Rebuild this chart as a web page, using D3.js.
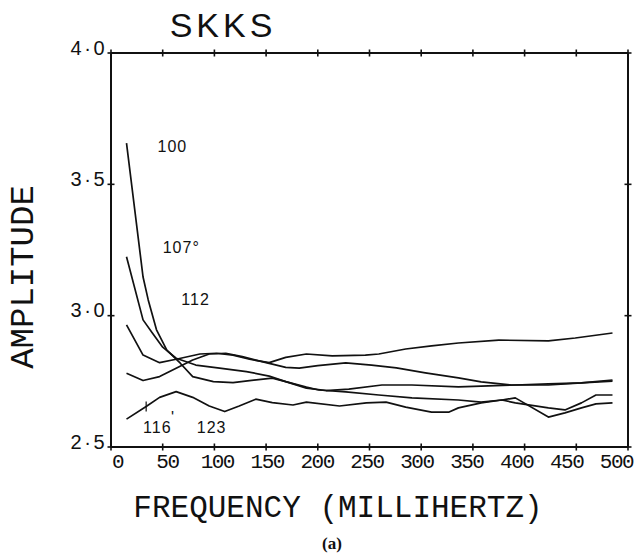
<!DOCTYPE html>
<html>
<head>
<meta charset="utf-8">
<script src="https://cdn.jsdelivr.net/npm/d3@7"></script>
<style>
  html, body { margin: 0; padding: 0; background: #fff; }
  svg { display: block; }
</style>
</head>
<body>
<svg id="chart" width="644" height="557"></svg>
<script>
// ---- data ----
const xTicks = [0, 50, 100, 150, 200, 250, 300, 350, 400, 450, 500];
const yTicks = [2.5, 3.0, 3.5, 4.0];
const yTickLabels = ["2·5", "3·0", "3·5", "4·0"];

const freq100 = [15, 31, 36, 44, 54, 67, 79, 99, 118, 134, 156, 169, 189, 208, 230, 262, 291, 336, 358, 391, 423, 455, 485];
const amp100  = [3.657, 3.147, 3.060, 2.946, 2.869, 2.819, 2.768, 2.749, 2.745, 2.753, 2.762, 2.749, 2.724, 2.715, 2.720, 2.736, 2.736, 2.729, 2.732, 2.736, 2.740, 2.744, 2.751];

const freq107 = [15, 31, 40, 50, 63, 82, 105, 131, 153, 169, 189, 201, 227, 259, 291, 336, 358, 378, 391, 423, 439, 455, 469, 485];
const amp107  = [3.224, 2.984, 2.934, 2.880, 2.838, 2.812, 2.800, 2.787, 2.770, 2.749, 2.728, 2.717, 2.710, 2.698, 2.687, 2.679, 2.671, 2.679, 2.668, 2.649, 2.641, 2.668, 2.698, 2.698];

const freq112 = [15, 31, 47, 63, 86, 102, 118, 134, 153, 169, 189, 214, 246, 259, 285, 310, 336, 375, 423, 449, 485];
const amp112  = [2.965, 2.850, 2.821, 2.834, 2.854, 2.857, 2.850, 2.834, 2.821, 2.841, 2.854, 2.847, 2.850, 2.854, 2.873, 2.885, 2.896, 2.907, 2.904, 2.915, 2.934];

const freq116 = [15, 31, 47, 63, 79, 95, 111, 127, 150, 169, 182, 200, 227, 252, 276, 304, 336, 358, 387, 423, 455, 485];
const amp116  = [2.781, 2.753, 2.768, 2.800, 2.831, 2.854, 2.857, 2.844, 2.821, 2.803, 2.800, 2.810, 2.820, 2.812, 2.801, 2.782, 2.763, 2.748, 2.736, 2.736, 2.744, 2.755];

const freq123 = [15, 34, 47, 63, 79, 95, 110, 124, 140, 156, 176, 189, 221, 247, 266, 285, 310, 327, 336, 358, 378, 391, 423, 439, 455, 469, 485];
const amp123  = [2.606, 2.654, 2.689, 2.711, 2.689, 2.656, 2.635, 2.656, 2.682, 2.669, 2.660, 2.671, 2.656, 2.668, 2.671, 2.652, 2.633, 2.633, 2.649, 2.668, 2.679, 2.687, 2.614, 2.630, 2.649, 2.664, 2.668];

const curveLabels = [
  { text: "100",  f: 45,  a: 3.625 },
  { text: "107°", f: 50,  a: 3.237 },
  { text: "112",  f: 68,  a: 3.040 },
  { text: "116",  f: 31,  a: 2.553 },
  { text: "'",    f: 58,  a: 2.592 },
  { text: "123",  f: 83,  a: 2.553 }
];

// ---- layout ----
const svg = d3.select("#chart");
const x = d3.scaleLinear().domain([0, 500]).range([111, 628]);
const y = d3.scaleLinear().domain([2.5, 4.0]).range([447, 53]);

const ink = "#111";

// frame
const g = svg.append("g");
g.append("line").attr("x1", x(0)).attr("x2", x(0)).attr("y1", y(4)).attr("y2", y(2.5));
g.append("line").attr("x1", x(500)).attr("x2", x(500)).attr("y1", y(4)).attr("y2", y(2.5));
g.append("line").attr("x1", x(0)).attr("x2", x(500)).attr("y1", y(4)).attr("y2", y(4));
g.append("line").attr("x1", x(0)).attr("x2", x(500)).attr("y1", y(2.5)).attr("y2", y(2.5));
g.selectAll("line").attr("stroke", ink).attr("stroke-width", 2);

// tick crosses
const tk = svg.append("g").attr("stroke", ink).attr("stroke-width", 1.6);
xTicks.forEach(t => {
  [2.5, 4.0].forEach(v => {
    tk.append("line").attr("x1", x(t)).attr("x2", x(t)).attr("y1", y(v) - 3.5).attr("y2", y(v) + 3.5);
  });
});
yTicks.forEach(t => {
  [0, 500].forEach(v => {
    tk.append("line").attr("x1", x(v) - 3.5).attr("x2", x(v) + 3.5).attr("y1", y(t)).attr("y2", y(t));
  });
});
// small mark across the lowest curve near its start
tk.append("line").attr("x1", x(34)).attr("x2", x(34)).attr("y1", y(2.654) - 5).attr("y2", y(2.654) + 5)
  .attr("stroke-width", 1.2);

// x tick labels via axis
const xAxis = d3.axisBottom(x).tickValues(xTicks).tickSize(0).tickPadding(0).tickFormat(d3.format("d"));
const xa = svg.append("g").attr("transform", `translate(0,${y(2.5)})`).call(xAxis);
xa.select(".domain").remove();
xa.selectAll("text")
  .attr("dy", null).attr("y", 21)
  .attr("font-family", "Liberation Mono, DejaVu Sans Mono, monospace")
  .attr("font-size", 21).attr("letter-spacing", -1.5)
  .attr("fill", ink)
  .attr("x", d => 6 - d * 0.036);

// y tick labels via axis
const yAxis = d3.axisLeft(y).tickValues(yTicks).tickSize(0).tickPadding(0)
  .tickFormat((d, i) => yTickLabels[i]);
const ya = svg.append("g").attr("transform", `translate(${x(0)},0)`).call(yAxis);
ya.select(".domain").remove();
ya.selectAll("text")
  .attr("dy", null).attr("x", -4).attr("y", 1)
  .attr("text-anchor", "end")
  .attr("font-family", "Liberation Sans, Arial, sans-serif")
  .attr("font-size", 20).attr("letter-spacing", 2.5)
  .attr("fill", ink);

// curves
const series = [
  [freq100, amp100], [freq107, amp107], [freq112, amp112], [freq116, amp116], [freq123, amp123]
];
const line = d3.line().x(d => x(d[0])).y(d => y(d[1])).curve(d3.curveLinear);
svg.append("g").selectAll("path").data(series).join("path")
  .attr("d", s => line(s[0].map((f, i) => [f, s[1][i]])))
  .attr("fill", "none").attr("stroke", ink).attr("stroke-width", 1.7)
  .attr("stroke-linejoin", "round");

// curve labels
svg.append("g").selectAll("text").data(curveLabels).join("text")
  .attr("x", d => x(d.f)).attr("y", d => y(d.a))
  .attr("font-family", "Liberation Sans, Arial, sans-serif")
  .attr("font-size", 16).attr("letter-spacing", 1)
  .attr("fill", ink)
  .text(d => d.text);

// title
svg.append("text").attr("x", 223).attr("y", 37).attr("text-anchor", "middle")
  .attr("font-family", "Liberation Sans, Arial, sans-serif")
  .attr("font-size", 34).attr("letter-spacing", 4).attr("fill", ink)
  .text("SKKS");

// axis titles
svg.append("text").attr("transform", "translate(33,277) rotate(-90)")
  .attr("text-anchor", "middle")
  .attr("font-family", "Liberation Mono, DejaVu Sans Mono, monospace")
  .attr("font-size", 34).attr("fill", ink)
  .text("AMPLITUDE");

svg.append("text").attr("x", 338).attr("y", 517).attr("text-anchor", "middle")
  .attr("font-family", "Liberation Mono, DejaVu Sans Mono, monospace")
  .attr("font-size", 31).attr("fill", ink)
  .text("FREQUENCY (MILLIHERTZ)");

svg.append("text").attr("x", 332).attr("y", 549).attr("text-anchor", "middle")
  .attr("font-family", "Liberation Serif, Times New Roman, serif")
  .attr("font-weight", "bold").attr("font-size", 17).attr("fill", ink)
  .text("(a)");
</script>
</body>
</html>
